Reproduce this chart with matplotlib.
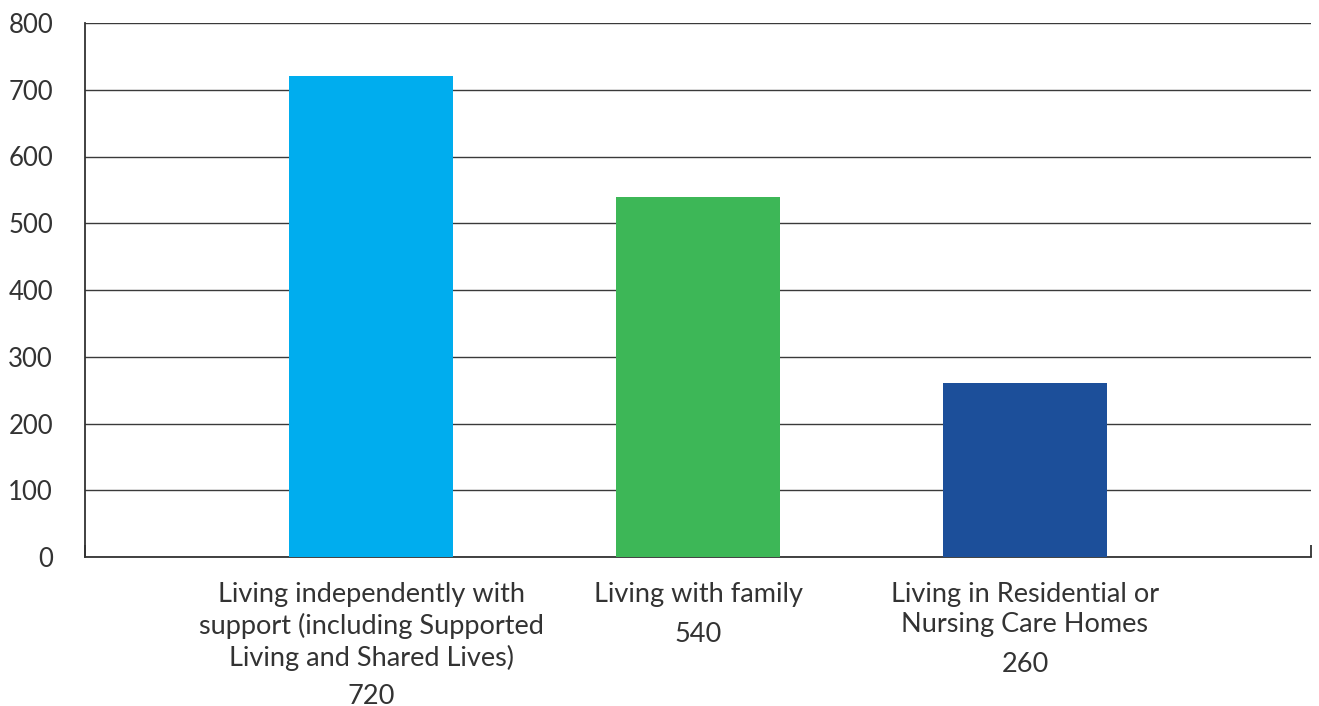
import matplotlib.pyplot as plt
from matplotlib.ticker import FixedLocator

categories = [
    "Living independently with\nsupport (including Supported\nLiving and Shared Lives)",
    "Living with family",
    "Living in Residential or\nNursing Care Homes",
]
values = [720, 540, 260]
colours = ["#00adee", "#3db757", "#1c4f9a"]
yticks = [0, 100, 200, 300, 400, 500, 600, 700, 800]

text_col = "#333333"
plt.rcParams["font.family"] = ["Lato", "DejaVu Sans"]

fig = plt.figure(figsize=(13.19, 7.06), dpi=100)
ax = fig.add_axes([85 / 1319, 1 - 557 / 706, (1311 - 85) / 1319, (557 - 23) / 706])

x = list(range(len(categories)))
ax.bar(x, values, width=0.5, color=colours, zorder=3)

ax.set_xlim(-0.875, 2.875)
ax.set_ylim(0, 800)
ax.set_yticks(yticks)
ax.set_yticklabels([str(v) for v in yticks], fontsize=18.5, color=text_col)
ax.tick_params(axis="y", length=0, pad=23)
ax.grid(axis="y", color="#3a3a3a", linewidth=1, zorder=1)

for s in ["top", "right"]:
    ax.spines[s].set_visible(False)
for s in ["left", "bottom"]:
    ax.spines[s].set_color("#333333")
    ax.spines[s].set_linewidth(1.3)
ax.spines["left"].set_zorder(4)

# category boundary ticks at the ends of the axis
ax.set_xticks([])
ax.xaxis.set_minor_locator(FixedLocator([-0.875, 2.875]))
ax.tick_params(axis="x", which="minor", direction="in", length=9, width=1.3, color="#333333")

for xi, cat, v in zip(x, categories, values):
    n = cat.count("\n") + 1
    ax.annotate(cat, xy=(xi, 0), xycoords=("data", "axes fraction"),
                xytext=(0, -25), textcoords="offset pixels",
                ha="center", va="top", fontsize=19.5, color=text_col, linespacing=1.27)
    ax.annotate(str(v), xy=(xi, 0), xycoords=("data", "axes fraction"),
                xytext=(0, -(46 + 31 * n)), textcoords="offset pixels",
                ha="center", va="center", fontsize=19.5, color=text_col)

fig.savefig("out.png", dpi=100)
